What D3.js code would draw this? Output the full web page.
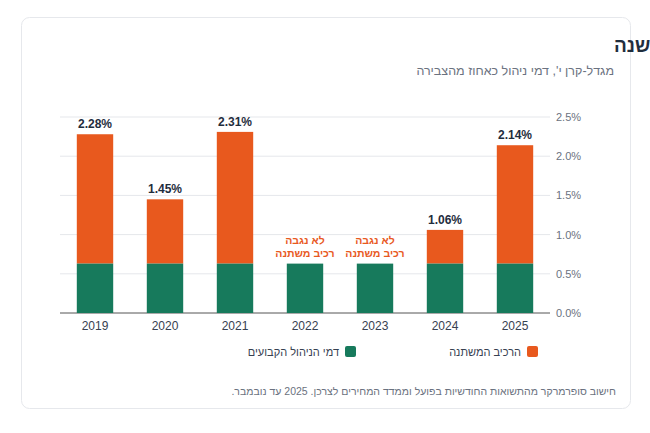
<!DOCTYPE html>
<html><head><meta charset="utf-8">
<script src="https://cdn.jsdelivr.net/npm/d3@7"></script>
<style>
body{margin:0;background:#fff;font-family:"Liberation Sans",Arial,sans-serif;}
</style></head><body>
<svg id="c" width="650" height="433"></svg>
<script>
var years = ['2019','2020','2021','2022','2023','2024','2025'];
var fixedFee = [0.63,0.63,0.63,0.63,0.63,0.63,0.63];
var totalFee = [2.28,1.45,2.31,0.63,0.63,1.06,2.14];
var hasVariable = [true,true,true,false,false,true,true];
var yTicks = [0,0.5,1,1.5,2,2.5];

var green = '#177a5c', orange = '#e8591e';
var svg = d3.select('#c');
svg.append('rect').attr('x',21.5).attr('y',17.5).attr('width',609).attr('height',391)
  .attr('rx',8).attr('fill','#fff').attr('stroke','#e6e8ec');

svg.append('text').attr('x',614).attr('y',52).attr('text-anchor','end').attr('direction','rtl')
  .attr('font-size',19).attr('font-weight','bold').attr('fill','#1f2d3d')
  .text('מה נגבה בפוליסה אחת, שנה אחר שנה');
svg.append('text').attr('x',614).attr('y',75).attr('text-anchor','end')
  .attr('font-size',12.5).attr('fill','#6b7280')
  .text('מגדל-קרן י\', דמי ניהול כאחוז מהצבירה');

var x = d3.scaleBand().domain(years).range([60,550]).paddingInner(0.48).paddingOuter(0.24);
var y = d3.scaleLinear().domain([0,2.5]).range([313,117]);

svg.append('g').selectAll('line').data(yTicks).enter().append('line')
  .attr('x1',60).attr('x2',550).attr('y1',function(d){return y(d);}).attr('y2',function(d){return y(d);})
  .attr('stroke',function(d){return d===0?'#555':'#e5e7eb';});

svg.append('g').selectAll('text').data(yTicks).enter().append('text')
  .attr('x',556).attr('y',function(d){return y(d)+4;})
  .attr('font-size',11).attr('fill','#6b7280')
  .text(function(d){return d.toFixed(1)+'%';});

svg.append('g').selectAll('text').data(years).enter().append('text')
  .attr('x',function(d){return x(d)+x.bandwidth()/2;}).attr('y',330)
  .attr('text-anchor','middle').attr('font-size',12).attr('fill','#374151')
  .text(function(d){return d;});

years.forEach(function(yr,i){
  var bx = x(yr), bw = x.bandwidth();
  if(hasVariable[i]){
    svg.append('rect').attr('x',bx).attr('width',bw)
      .attr('y',y(totalFee[i])).attr('height',y(fixedFee[i])-y(totalFee[i])).attr('fill',orange);
    svg.append('text').attr('x',bx+bw/2).attr('y',y(totalFee[i])-6)
      .attr('text-anchor','middle').attr('font-size',12).attr('font-weight','bold').attr('fill','#1f2d3d')
      .text(totalFee[i].toFixed(2)+'%');
  } else {
    svg.append('text').attr('x',bx+bw/2).attr('y',y(fixedFee[i])-20)
      .attr('text-anchor','middle').attr('font-size',10.5).attr('font-weight','bold').attr('fill',orange)
      .text('לא נגבה');
    svg.append('text').attr('x',bx+bw/2).attr('y',y(fixedFee[i])-7)
      .attr('text-anchor','middle').attr('font-size',10.5).attr('font-weight','bold').attr('fill',orange)
      .text('רכיב משתנה');
  }
  svg.append('rect').attr('x',bx).attr('width',bw)
    .attr('y',y(fixedFee[i])).attr('height',y(0)-y(fixedFee[i])).attr('fill',green);
});

var legend = [{label:'הרכיב המשתנה',c:orange,x:527},{label:'דמי הניהול הקבועים',c:green,x:345}];
legend.forEach(function(l){
  svg.append('rect').attr('x',l.x).attr('y',346).attr('width',11).attr('height',11).attr('rx',2).attr('fill',l.c);
  svg.append('text').attr('x',l.x-6).attr('y',356).attr('text-anchor','end')
    .attr('font-size',11).attr('fill','#374151').text(l.label);
});

svg.append('text').attr('x',616).attr('y',395).attr('text-anchor','start').attr('direction','rtl')
  .attr('font-size',10.5).attr('fill','#6b7280')
  .text('חישוב סופרמרקר מהתשואות החודשיות בפועל וממדד המחירים לצרכן. 2025 עד נובמבר.');
</script></body></html>
